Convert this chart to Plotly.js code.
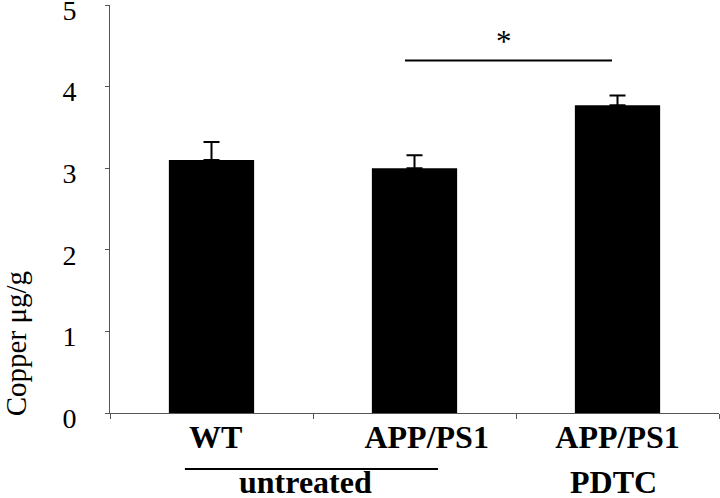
<!DOCTYPE html>
<html>
<head>
<meta charset="utf-8">
<script src="https://cdn.plot.ly/plotly-3.0.1.min.js"></script>
<style>
  html, body { margin: 0; padding: 0; background: #fff; }
  #chart { width: 720px; height: 498px; }
</style>
</head>
<body>
<div id="chart"></div>
<script>
// Data
var categories = ["WT", "APP/PS1", "APP/PS1 PDTC"];
var tickLabels = ["WT", "APP/PS1", "APP/PS1"];
var copperMean = [3.10, 3.00, 3.77];
var copperErr  = [0.22, 0.16, 0.12];
var yTicks = [0, 1, 2, 3, 4, 5];

var xIdx = categories.map(function (c, i) { return i; });
var serif = "Liberation Serif, Times New Roman, serif";

var trace = {
  type: "bar",
  x: xIdx,
  y: copperMean,
  width: 0.42,
  marker: { color: "#000000", line: { width: 0 } },
  error_y: {
    type: "data",
    symmetric: false,
    array: copperErr,
    arrayminus: copperErr.map(function () { return 0; }),
    color: "#000000",
    thickness: 2,
    width: 8
  },
  hoverinfo: "x+y"
};

var layout = {
  width: 720,
  height: 498,
  margin: { l: 110, r: 1, t: 5, b: 85 },
  paper_bgcolor: "#ffffff",
  plot_bgcolor: "#ffffff",
  showlegend: false,
  font: { family: serif, color: "#000" },
  xaxis: {
    type: "linear",
    range: [-0.5, 2.5],
    showgrid: false,
    zeroline: false,
    showline: true,
    linecolor: "#555",
    linewidth: 1,
    tickmode: "array",
    tickvals: [0.02, 1.06, 2.0],
    ticktext: tickLabels,
    ticks: "",
    ticklabelstandoff: -4,
    tickfont: { family: serif, size: 32, color: "#000", weight: "bold" },
    minor: {
      tickmode: "array",
      tickvals: [-0.5, 0.5, 1.5, 2.5],
      ticks: "outside",
      ticklen: 5,
      tickcolor: "#555",
      tickwidth: 1,
      showgrid: false
    },
    fixedrange: true
  },
  yaxis: {
    range: [0, 5],
    tickmode: "array",
    tickvals: yTicks,
    ticktext: yTicks.map(String),
    showgrid: false,
    zeroline: false,
    showline: true,
    linecolor: "#555",
    linewidth: 1,
    ticks: "outside",
    ticklen: 4,
    tickcolor: "#555",
    ticklabelstandoff: 23,
    ticklabelshift: 5,
    ticklabeloverflow: "allow",
    tickfont: { family: serif, size: 28, color: "#000" },
    fixedrange: true
  },
  shapes: [
    // significance bar
    { type: "line", xref: "x", yref: "y", x0: 0.953, x1: 1.973, y0: 4.32, y1: 4.32,
      line: { color: "#000", width: 2 } },
    // line above "untreated"
    { type: "line", xref: "x", yref: "paper", x0: -0.131, x1: 1.116, y0: -0.137, y1: -0.137,
      line: { color: "#000", width: 2 } }
  ],
  annotations: [
    { text: "*", xref: "x", yref: "y", x: 1.44, y: 4.55, showarrow: false,
      font: { family: serif, size: 31, color: "#000" } },
    { text: "untreated", xref: "x", yref: "paper", x: 0.463, y: -0.168, yanchor: "middle",
      showarrow: false, font: { family: serif, size: 32, color: "#000", weight: "bold" } },
    { text: "PDTC", xref: "x", yref: "paper", x: 1.98, y: -0.168, yanchor: "middle",
      showarrow: false, font: { family: serif, size: 32, color: "#000", weight: "bold" } },
    { text: "Copper \u03bcg/g", xref: "paper", yref: "paper", x: -0.155, y: 0.17,
      xanchor: "center", yanchor: "middle", textangle: -90, showarrow: false,
      font: { family: serif, size: 29, color: "#000" } }
  ]
};

Plotly.newPlot("chart", [trace], layout, { displayModeBar: false, staticPlot: true });
</script>
</body>
</html>
